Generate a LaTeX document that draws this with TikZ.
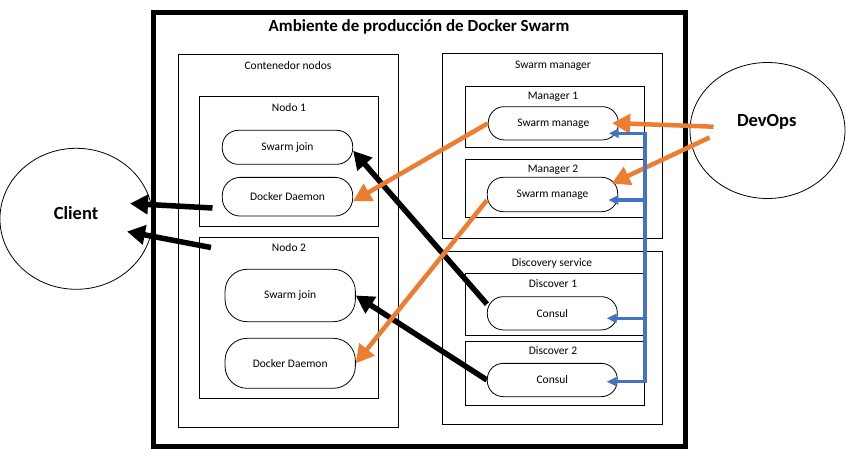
\documentclass[tikz,border=0pt]{standalone}
\usepackage{fontspec}
\setmainfont{Carlito}
\usetikzlibrary{arrows.meta,shapes.geometric}
\definecolor{orng}{HTML}{ED7D31}
\definecolor{blu}{HTML}{4472C4}
\begin{document}
\begin{tikzpicture}[x=1pt,y=-1pt,
  box/.style={draw, line width=0.9pt, inner sep=0pt, rectangle},
  pill/.style={draw, line width=0.8pt, rounded corners=16pt, inner sep=0pt, font=\fontsize{11.5}{13}\selectfont},
  bigpill/.style={pill, rounded corners=22pt},
  lbl/.style={inner sep=0pt, font=\fontsize{11.5}{13}\selectfont},
  actor/.style={draw, ellipse, line width=0.8pt, inner sep=0pt},
  actortext/.style={inner sep=0pt, font=\fontsize{18.5}{20}\selectfont\bfseries},
  blk/.style={draw=black, line width=5.5pt, -{Triangle[length=18pt,width=19pt]}},
  org/.style={draw=orng, line width=4.5pt, -{Triangle[length=18pt,width=19pt]}},
  bluln/.style={draw=blu, line width=3.5pt, line join=miter},
  bluarr/.style={bluln, -{Triangle[length=10pt,width=9pt]}}
]
\useasboundingbox (0,0) rectangle (846,463);

% outer frame
\node[box, line width=5pt, minimum width=532pt, minimum height=434pt] (outer) at (419,229) {};
\node[inner sep=0pt, font=\fontsize{17}{19}\selectfont\bfseries] (title) at (419,27) {Ambiente de producción de Docker Swarm};

% Contenedor nodos
\node[box, minimum width=220pt, minimum height=373pt] (cn) at (288,240.5) {};
\node[lbl] (cnt) at (288,66) {Contenedor nodos};
\node[box, minimum width=179pt, minimum height=129.3pt] (n1) at (288.8,161.3) {};
\node[lbl] (n1t) at (289,108) {Nodo 1};
\node[pill, minimum width=130.4pt, minimum height=34pt] (sj1) at (287.5,147.3) {Swarm join};
\node[pill, rounded corners=18pt, minimum width=130.4pt, minimum height=38.7pt] (dd1) at (287.5,196.7) {Docker Daemon};
\node[box, minimum width=179.4pt, minimum height=161pt] (n2) at (289,317.8) {};
\node[lbl] (n2t) at (289,248) {Nodo 2};
\node[bigpill, minimum width=130.3pt, minimum height=52.4pt] (sj2) at (290.2,295.5) {Swarm join};
\node[bigpill, minimum width=130.3pt, minimum height=50pt] (dd2) at (290.2,363.3) {Docker Daemon};

% Swarm manager
\node[box, minimum width=220pt, minimum height=185pt] (sm) at (552.3,145.8) {};
\node[lbl] (smt) at (553,66) {Swarm manager};
\node[box, minimum width=178.7pt, minimum height=60.6pt] (m1) at (554.7,117) {};
\node[lbl] (m1t) at (553,97) {Manager 1};
\node[pill, minimum width=130pt, minimum height=33.3pt] (smg1) at (553.3,123.3) {Swarm manage};
\node[box, minimum width=178.7pt, minimum height=58pt] (m2) at (554.7,188.3) {};
\node[lbl] (m2t) at (553,170) {Manager 2};
\node[pill, minimum width=130.4pt, minimum height=34.4pt] (smg2) at (552.5,194.5) {Swarm manage};

% Discovery service
\node[box, minimum width=220pt, minimum height=172.3pt] (ds) at (552.3,337.8) {};
\node[lbl] (dst) at (552,263) {Discovery service};
\node[box, minimum width=178.7pt, minimum height=61.7pt] (d1) at (554.7,304.2) {};
\node[lbl] (d1t) at (553,284) {Discover 1};
\node[pill, minimum width=130pt, minimum height=33.3pt] (c1) at (552.3,313.3) {Consul};
\node[box, minimum width=178.7pt, minimum height=64pt] (d2) at (554.7,373) {};
\node[lbl] (d2t) at (553,351) {Discover 2};
\node[pill, minimum width=130pt, minimum height=33.3pt] (c2) at (552.3,380) {Consul};

% actors
\node[actor, minimum width=152.7pt, minimum height=141pt] (client) at (76.3,218.8) {};
\node[actortext] (clientt) at (76,213.5) {Client};
\node[actor, minimum width=155pt, minimum height=136pt] (devops) at (767.5,130.5) {};
\node[actortext] (devopst) at (766.7,122) {DevOps};

% free ends
\coordinate (ca1) at (212.5,208);
\coordinate (ca1t) at (130,203.5);
\coordinate (ca2) at (211,247.5);
\coordinate (ca2t) at (127,231.5);
\coordinate (do1) at (713.5,126.7);
\coordinate (do2) at (709.5,137.5);

% black arrows
\draw[blk] (ca1) -- (ca1t);
\draw[blk] (ca2) -- (ca2t);
\draw[blk] (c1.172) -- (sj1.-3);
\draw[blk] (c2.west) -- (sj2.east);

% orange arrows
\draw[org, shorten >=-6.5pt] (do1) -- (smg1.east);
\draw[org, shorten >=-7pt] (do2) -- (smg2.12);
\draw[org] (smg1.west) -- (dd1.-4);
\draw[org] (smg2.185) -- (dd2.east);

% blue bus
\coordinate (b1) at (645,133.3);
\coordinate (b2) at (645,200);
\coordinate (b3) at (645,318.3);
\coordinate (b4) at (645,381.7);
\draw[bluln, {Triangle[length=10pt,width=9pt]}-{Triangle[length=10pt,width=9pt]}, shorten <=-10pt, shorten >=-11pt]
  (b1 -| smg1.east) -- (b1) -- (b4) -- (b4 -| c2.east);
\draw[bluarr, shorten >=-9.7pt] (b2) -- (b2 -| smg2.east);
\draw[bluarr, shorten >=-11pt] (b3) -- (b3 -| c1.east);
\end{tikzpicture}
\end{document}
